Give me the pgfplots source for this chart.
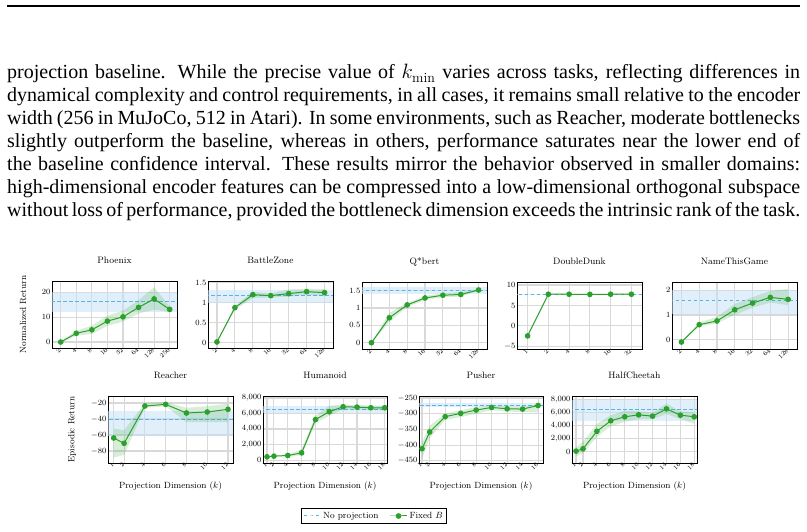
\documentclass[border=0pt]{standalone}
\usepackage{pgfplots}
\pgfplotsset{compat=1.18}
\usepackage{fontspec}
\newfontfamily\bodyfont{Liberation Serif}

\definecolor{basecol}{RGB}{86,180,233}
\definecolor{bandblue}{RGB}{200,226,245}
\definecolor{fixgreen}{RGB}{44,160,44}

\pgfplotsset{
  panel/.style={
    scale only axis, width=125pt, height=67pt, anchor=south west,
    axis line style={line width=0.9pt},
    grid=major, grid style={gray!30, line width=1.1pt},
    tick style={draw=none},
    scaled y ticks=false,
    yticklabel style={font=\fontsize{8}{9}\selectfont, inner sep=1.5pt},
    xticklabel style={font=\fontsize{6.3}{7}\selectfont, rotate=45, anchor=east, inner sep=1pt},
    title style={font=\fontsize{9.3}{10}\selectfont, at={(0.5,1)}, anchor=base, yshift=11.5pt},
    label style={font=\fontsize{9}{10}\selectfont},
  },
  baseband/.style={draw=none, fill=bandblue, fill opacity=0.55, forget plot},
  baseline/.style={basecol, line width=1pt, dash pattern=on 3.5pt off 2.5pt, no markers},
  fixband/.style={draw=none, fill=fixgreen, fill opacity=0.18, forget plot},
  fixline/.style={fixgreen, line width=1pt, mark=*, mark size=2.3pt, mark options={solid, fill=fixgreen}},
}

\begin{document}
\begin{tikzpicture}
\useasboundingbox (0,0) rectangle (807pt,531pt);

% page header rule and the paragraph above the figure
\draw[line width=1.1pt] (7pt,525pt) -- (800pt,525pt);
\begin{scope}[every node/.style={anchor=base west, inner sep=0pt}]
\newcommand\bodyline[2]{\node at (7pt,#1) {\bodyfont\fontsize{20}{23}\selectfont\makebox[793pt][s]{#2}};}
\bodyline{452pt}{projection baseline.  While the precise value of $k_{\min}$ varies across tasks, reflecting differences in}
\bodyline{429pt}{dynamical complexity and control requirements, in all cases, it remains small relative to the encoder}
\bodyline{406pt}{width (256 in MuJoCo, 512 in Atari). In some environments, such as Reacher, moderate bottlenecks}
\bodyline{383pt}{slightly outperform the baseline, whereas in others, performance saturates near the lower end of}
\bodyline{360pt}{the baseline confidence interval.  These results mirror the behavior observed in smaller domains:}
\bodyline{337pt}{high-dimensional encoder features can be compressed into a low-dimensional orthogonal subspace}
\bodyline{314pt}{without loss of performance, provided the bottleneck dimension exceeds the intrinsic rank of the task.}
\end{scope}

% ---------------- Atari (top row) ----------------
\begin{axis}[panel, at={(52pt,183pt)}, title={Phoenix}, ylabel={Normalized Return},
  ylabel style={at={(axis description cs:-0.232,0.5)}, anchor=center},
  xmin=0.44, xmax=8.47, ymin=-2.4, ymax=24.5,
  xtick={1,...,8}, xticklabels={2,4,8,16,32,64,128,256}, ytick={0,10,20}]
\addplot[baseband] coordinates {(0,11.9) (9,11.9) (9,20) (0,20)};
\addplot[baseline] coordinates {(0,16.3) (9,16.3)};
\addplot[fixband] coordinates {(1,0.4) (2,4.5) (3,6.6) (4,10.6) (5,12.6) (6,16.8) (7,22.0) (8,14.2)
  (8,12.0) (7,13.0) (6,11.4) (5,8.2) (4,6.5) (3,3.2) (2,2.6) (1,-0.4)};
\addplot[fixline] coordinates {(1,0) (2,3.5) (3,4.9) (4,8.4) (5,10.1) (6,13.9) (7,17.3) (8,13.1)};
\end{axis}

\begin{axis}[panel, at={(208pt,183pt)}, title={BattleZone},
  xmin=0.5, xmax=7.47, ymin=-0.13, ymax=1.54,
  xtick={1,...,7}, xticklabels={2,4,8,16,32,64,128}, ytick={0,0.5,1,1.5}]
\addplot[baseband] coordinates {(0,1.0) (8,1.0) (8,1.325) (0,1.325)};
\addplot[baseline] coordinates {(0,1.175) (8,1.175)};
\addplot[fixband] coordinates {(1,0.03) (2,0.93) (3,1.27) (4,1.23) (5,1.33) (6,1.35) (7,1.34)
  (7,1.16) (6,1.2) (5,1.15) (4,1.13) (3,1.12) (2,0.82) (1,0.01)};
\addplot[fixline] coordinates {(1,0.02) (2,0.875) (3,1.2) (4,1.175) (5,1.225) (6,1.275) (7,1.25)};
\end{axis}

\begin{axis}[panel, at={(362pt,182pt)}, title={Q*bert},
  xmin=0.47, xmax=7.47, ymin=-0.18, ymax=1.75,
  xtick={1,...,7}, xticklabels={2,4,8,16,32,64,128}, ytick={0,0.5,1,1.5}]
\addplot[baseband] coordinates {(0,1.415) (8,1.415) (8,1.6) (0,1.6)};
\addplot[baseline] coordinates {(0,1.5) (8,1.5)};
\addplot[fixband] coordinates {(1,0.01) (2,0.86) (3,1.15) (4,1.35) (5,1.43) (6,1.46) (7,1.54)
  (7,1.5) (6,1.33) (5,1.31) (4,1.23) (3,1.03) (2,0.6) (1,-0.01)};
\addplot[fixline] coordinates {(1,0) (2,0.72) (3,1.09) (4,1.29) (5,1.37) (6,1.39) (7,1.52)};
\end{axis}

\begin{axis}[panel, at={(517pt,182pt)}, title={DoubleDunk},
  xmin=-0.51, xmax=5.51, ymin=-5.65, ymax=10.73,
  xtick={0,...,5}, xticklabels={1,2,4,8,16,32}, ytick={-5,0,5,10}]
\addplot[baseband] coordinates {(-1,7.6) (6,7.6) (6,7.9) (-1,7.9)};
\addplot[baseline] coordinates {(-1,7.74) (6,7.74)};
\addplot[fixband] coordinates {(0,-2.3) (1,7.85) (2,7.85) (3,7.82) (4,7.85) (5,7.85)
  (5,7.63) (4,7.63) (3,7.58) (2,7.63) (1,7.63) (0,-2.6)};
\addplot[fixline] coordinates {(0,-2.45) (1,7.74) (2,7.74) (3,7.7) (4,7.74) (5,7.74)};
\end{axis}

\begin{axis}[panel, at={(672pt,182pt)}, title={NameThisGame},
  xmin=0.47, xmax=7.5, ymin=-0.37, ymax=2.33,
  xtick={1,...,7}, xticklabels={2,4,8,16,32,64,128}, ytick={0,1,2}]
\addplot[baseband] coordinates {(0,1.04) (8,1.04) (8,2.0) (0,2.0)};
\addplot[baseline] coordinates {(0,1.57) (8,1.57)};
\addplot[fixband] coordinates {(1,-0.07) (2,0.7) (3,0.92) (4,1.45) (5,1.72) (6,1.97) (7,2.05)
  (7,1.4) (6,1.5) (5,1.3) (4,1.0) (3,0.66) (2,0.54) (1,-0.11)};
\addplot[fixline] coordinates {(1,-0.09) (2,0.61) (3,0.76) (4,1.21) (5,1.48) (6,1.71) (7,1.63)};
\end{axis}

% ---------------- MuJoCo (bottom row) ----------------
\begin{axis}[panel, at={(108pt,68pt)}, title={Reacher}, ylabel={Episodic Return},
  xlabel={Projection Dimension ($k$)},
  ylabel style={at={(axis description cs:-0.288,0.5)}, anchor=center},
  xlabel style={at={(axis description cs:0.5,-0.343)}, anchor=center},
  xmin=0.45, xmax=12.48, ymin=-95, ymax=-11.25,
  xtick={1,2,4,6,8,10,12}, ytick={-80,-60,-40,-20}]
\addplot[baseband] coordinates {(0,-60.8) (13,-60.8) (13,-30.4) (0,-30.4)};
\addplot[baseline] coordinates {(0,-41.25) (13,-41.25)};
\addplot[fixband] coordinates {(1,-52) (2,-54) (4,-20) (6,-19) (8,-26) (10,-24) (12,-21)
  (12,-44) (10,-44) (8,-44) (6,-24) (4,-26) (2,-85) (1,-88)};
\addplot[fixline] coordinates {(1,-63.75) (2,-70.4) (4,-23.75) (6,-21.7) (8,-32.5) (10,-31.25) (12,-27.9)};
\end{axis}

\begin{axis}[panel, at={(263pt,68pt)}, width=124pt, title={Humanoid},
  xlabel={Projection Dimension ($k$)},
  xlabel style={at={(axis description cs:0.5,-0.343)}, anchor=center},
  xmin=0.42, xmax=18.33, ymin=-379, ymax=8253,
  xtick={1,2,4,6,8,10,12,14,16,18}, ytick={0,2000,4000,6000,8000}]
\addplot[baseband] coordinates {(0,6105) (19,6105) (19,6947) (0,6947)};
\addplot[baseline] coordinates {(0,6526) (19,6526)};
\addplot[fixband] coordinates {(1,480) (2,560) (4,680) (6,1400) (8,5700) (10,7000) (12,7150) (14,7100) (16,7000) (18,7000)
  (18,6400) (16,6450) (14,6500) (12,6600) (10,5700) (8,4800) (6,600) (4,500) (2,450) (1,360)};
\addplot[fixline] coordinates {(1,420) (2,505) (4,590) (6,926) (8,5221) (10,6231) (12,6863) (14,6821) (16,6737) (18,6737)};
\end{axis}

\begin{axis}[panel, at={(419pt,68pt)}, width=124pt, title={Pusher},
  xlabel={Projection Dimension ($k$)},
  xlabel style={at={(axis description cs:0.5,-0.343)}, anchor=center},
  xmin=0.61, xmax=16.64, ymin=-457, ymax=-243.75,
  xtick={1,2,4,6,8,10,12,14,16}, ytick={-450,-400,-350,-300,-250}]
\addplot[baseband] coordinates {(0,-280.2) (17,-280.2) (17,-266.7) (0,-266.7)};
\addplot[baseline] coordinates {(0,-274) (17,-274)};
\addplot[fixband] coordinates {(1,-392) (2,-338) (4,-300) (6,-289) (8,-279) (10,-274) (12,-277) (14,-278) (16,-270)
  (16,-296) (14,-295) (12,-293) (10,-289) (8,-300) (6,-311) (4,-320) (2,-378) (1,-443)};
\addplot[fixline] coordinates {(1,-411.5) (2,-358.3) (4,-309.4) (6,-299) (8,-288.5) (10,-280.2) (12,-284.4) (14,-285.4) (16,-274)};
\end{axis}

\begin{axis}[panel, at={(572pt,68pt)}, title={HalfCheetah},
  xlabel={Projection Dimension ($k$)},
  xlabel style={at={(axis description cs:0.5,-0.343)}, anchor=center},
  xmin=0.42, xmax=18.39, ymin=-1722, ymax=8557,
  xtick={1,2,4,6,8,10,12,14,16,18}, ytick={0,2000,4000,6000,8000},
  legend columns=2,
  legend style={at={(axis description cs:-1.584,-0.791)}, anchor=center,
    font=\fontsize{9}{10}\selectfont, draw=black, line width=0.8pt,
    inner sep=1.5pt, row sep=-1pt,
    /tikz/every even column/.append style={column sep=9pt}},
  legend image post style={line width=1pt}]
\addplot[baseband] coordinates {(0,4759) (19,4759) (19,7899) (0,7899)};
\addplot[baseline] coordinates {(0,6430) (19,6430)};
\addlegendentry{No projection}
\addplot[fixband] coordinates {(1,700) (2,1500) (4,4300) (6,5600) (8,6300) (10,6200) (12,6000) (14,7400) (16,6200) (18,6100)
  (18,4300) (16,5000) (14,5800) (12,5000) (10,5000) (8,4600) (6,3900) (4,2300) (2,-200) (1,-700)};
\addplot[fixline] coordinates {(1,100) (2,456) (4,3139) (6,4759) (8,5367) (10,5671) (12,5468) (14,6582) (16,5620) (18,5367)};
\addlegendentry{Fixed $B$}
\end{axis}
\end{tikzpicture}
\end{document}
